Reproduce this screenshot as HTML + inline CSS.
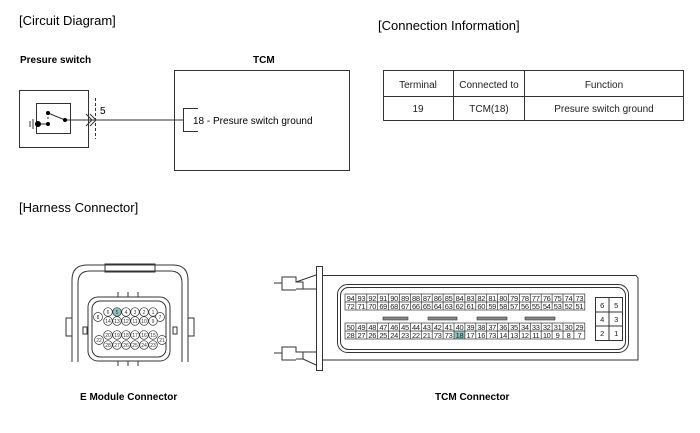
<!DOCTYPE html>
<html><head><meta charset="utf-8"><style>
html,body{margin:0;padding:0;background:#fff;width:700px;height:433px;overflow:hidden}
svg{display:block;font-family:"Liberation Sans",Arial,sans-serif}
</style></head><body>
<svg width="700" height="433" viewBox="0 0 700 433" xmlns="http://www.w3.org/2000/svg">
<g fill="#000">
<text x="19" y="25" font-size="13">[Circuit Diagram]</text>
<text x="378" y="30" font-size="13">[Connection Information]</text>
<text x="19" y="212" font-size="13">[Harness Connector]</text>
<text x="20" y="63" font-size="10" font-weight="bold">Presure switch</text>
<text x="253" y="63" font-size="10" font-weight="bold">TCM</text>
<text x="80" y="400" font-size="10" font-weight="bold">E Module Connector</text>
<text x="435" y="400" font-size="10" font-weight="bold">TCM Connector</text>
</g>
<!-- circuit -->
<g stroke="#333" fill="none" stroke-width="1">
<rect x="19.5" y="90.5" width="69" height="57"/>
<rect x="36.5" y="103.5" width="34" height="30"/>
<rect x="174.5" y="70.5" width="175" height="100"/>
<line x1="65" y1="120" x2="183" y2="120"/>
<path d="M198 108.5 H183.5 V131.5 H198"/>
<line x1="95.5" y1="98" x2="95.5" y2="139" stroke-dasharray="3,2"/>
<path d="M86 114 L92 120 L86 126 M90 114 L96 120 L90 126"/>
<line x1="48" y1="113" x2="65" y2="120"/>
<path d="M48 113 V120" stroke-dasharray="2,2"/>
<line x1="38" y1="124" x2="48" y2="124"/>
<line x1="33" y1="119" x2="33" y2="129"/>
<line x1="30" y1="121" x2="30" y2="127"/>
</g>
<g fill="#000"><circle cx="48" cy="113" r="2"/><circle cx="65" cy="120" r="2"/><circle cx="48" cy="124" r="2"/><circle cx="38" cy="124" r="3"/></g>
<text x="100" y="114" font-size="10">5</text>
<text x="193" y="124" font-size="10">18 - Presure switch ground</text>
<!-- table -->
<g stroke="#333" fill="none">
<rect x="383.5" y="70.5" width="300" height="50"/>
<line x1="383" y1="96.5" x2="684" y2="96.5"/>
<line x1="453.5" y1="70" x2="453.5" y2="121"/>
<line x1="524.5" y1="70" x2="524.5" y2="121"/>
</g>
<g font-size="10" text-anchor="middle" fill="#222">
<text x="418" y="88">Terminal</text><text x="489" y="88">Connected to</text><text x="604" y="88">Function</text>
<text x="418" y="112">19</text><text x="489" y="112">TCM(18)</text><text x="604" y="112">Presure switch ground</text>
</g>
<!-- E module -->
<g stroke="#333" fill="none" stroke-width="1">
<path d="M72 362 V280 Q72 265 87 265 H173 Q188 265 188 280 V362"/>
<path d="M78 362 V283 Q78 271 90 271 H170 Q182 271 182 283 V362"/>
<rect x="105" y="264" width="50" height="8"/>
<rect x="88" y="297" width="82" height="64" rx="10"/>
<rect x="92" y="301" width="74" height="56" rx="8"/>
<rect x="66" y="318" width="6" height="18"/><rect x="188" y="318" width="6" height="18"/>
<rect x="83" y="327" width="4" height="7"/><rect x="173" y="327" width="4" height="7"/>
<path d="M118 297 V292 M128 297 V292 M138 297 V292 M118 361 V366 M128 361 V366 M138 361 V366"/>
</g>
<g stroke="#333" stroke-width="0.7" fill="#fff">
<circle cx="108" cy="312" r="4.3"/><circle cx="117" cy="312" r="4.3" fill="#8fc3c0"/><circle cx="126" cy="312" r="4.3"/><circle cx="135" cy="312" r="4.3"/><circle cx="144" cy="312" r="4.3"/><circle cx="153" cy="312" r="4.3"/>
<circle cx="98" cy="317" r="4.5"/><circle cx="160" cy="317" r="4.5"/>
<circle cx="108" cy="321" r="4.3"/><circle cx="117" cy="321" r="4.3"/><circle cx="126" cy="321" r="4.3"/><circle cx="135" cy="321" r="4.3"/><circle cx="144" cy="321" r="4.3"/><circle cx="153" cy="321" r="4.3"/>
<circle cx="108" cy="335" r="4.3"/><circle cx="117" cy="335" r="4.3"/><circle cx="126" cy="335" r="4.3"/><circle cx="135" cy="335" r="4.3"/><circle cx="144" cy="335" r="4.3"/><circle cx="153" cy="335" r="4.3"/>
<circle cx="99" cy="340" r="4.5"/><circle cx="162" cy="340" r="4.5"/>
<circle cx="108" cy="345" r="4.3"/><circle cx="117" cy="345" r="4.3"/><circle cx="126" cy="345" r="4.3"/><circle cx="135" cy="345" r="4.3"/><circle cx="144" cy="345" r="4.3"/><circle cx="153" cy="345" r="4.3"/>
</g>
<g font-size="5" text-anchor="middle" fill="#333">
<text x="108" y="314">6</text><text x="117" y="314">5</text><text x="126" y="314">4</text><text x="135" y="314">3</text><text x="144" y="314">2</text><text x="153" y="314">1</text>
<text x="98" y="319">8</text><text x="160" y="319">7</text>
<text x="108" y="323">14</text><text x="117" y="323">13</text><text x="126" y="323">12</text><text x="135" y="323">11</text><text x="144" y="323">10</text><text x="153" y="323">9</text>
<text x="108" y="337">20</text><text x="117" y="337">19</text><text x="126" y="337">18</text><text x="135" y="337">17</text><text x="144" y="337">16</text><text x="153" y="337">15</text>
<text x="99" y="342">22</text><text x="162" y="342">21</text>
<text x="108" y="347">28</text><text x="117" y="347">27</text><text x="126" y="347">26</text><text x="135" y="347">25</text><text x="144" y="347">24</text><text x="153" y="347">23</text>
</g>
<!-- TCM connector -->
<g stroke="#333" fill="none" stroke-width="1">
<rect x="316.5" y="266.5" width="6" height="104"/>
<path d="M322 275.5 H636 L638 278 V360 H322"/>
<rect x="337.5" y="284.5" width="291" height="68" rx="10"/>
<rect x="340.5" y="287.5" width="285" height="62" rx="8"/>
<path d="M274 283 H282 V277 H296 V282 H303 V289 H296 M296 282 L316 275 M303 289 L316 289 M282 283 V290 H296"/>
<path d="M274 353 H282 V347 H296 V352 H303 V359 H296 M296 352 L316 352 M303 359 L316 365 M282 353 V360 H296"/>
<rect x="595.5" y="297.5" width="27" height="43"/>
<path d="M595 312 H623 M595 326 H623 M609 297 V341"/>
</g>
<rect x="454" y="331" width="10.9" height="8" fill="#8fc3c0"/>
<g fill="#888" stroke="#333" stroke-width="0.6">
<rect x="383" y="317" width="25" height="3"/><rect x="428" y="317" width="29" height="3"/><rect x="477" y="317" width="30" height="3"/><rect x="525" y="317" width="30" height="3"/>
</g>
<g stroke="#333" fill="none" stroke-width="0.7">
<rect x="345" y="294" width="239.8" height="16"/><line x1="345" y1="302" x2="584.8" y2="302"/>
<rect x="345" y="323" width="239.8" height="16"/><line x1="345" y1="331" x2="584.8" y2="331"/>
<path d="M355.9 294V310M366.8 294V310M377.7 294V310M388.6 294V310M399.5 294V310M410.4 294V310M421.3 294V310M432.2 294V310M443.1 294V310M454 294V310M464.9 294V310M475.8 294V310M486.7 294V310M497.6 294V310M508.5 294V310M519.4 294V310M530.3 294V310M541.2 294V310M552.1 294V310M563 294V310M573.9 294V310"/>
<path d="M355.9 323V339M366.8 323V339M377.7 323V339M388.6 323V339M399.5 323V339M410.4 323V339M421.3 323V339M432.2 323V339M443.1 323V339M454 323V339M464.9 323V339M475.8 323V339M486.7 323V339M497.6 323V339M508.5 323V339M519.4 323V339M530.3 323V339M541.2 323V339M552.1 323V339M563 323V339M573.9 323V339"/>
</g>
<g font-size="7.5" text-anchor="middle" fill="#222" letter-spacing="-0.3">
<text y="301"><tspan x="350.5">94</tspan><tspan x="361.4">93</tspan><tspan x="372.3">92</tspan><tspan x="383.2">91</tspan><tspan x="394.1">90</tspan><tspan x="405">89</tspan><tspan x="415.9">88</tspan><tspan x="426.8">87</tspan><tspan x="437.7">86</tspan><tspan x="448.6">85</tspan><tspan x="459.5">84</tspan><tspan x="470.4">83</tspan><tspan x="481.3">82</tspan><tspan x="492.2">81</tspan><tspan x="503.1">80</tspan><tspan x="514">79</tspan><tspan x="524.9">78</tspan><tspan x="535.8">77</tspan><tspan x="546.7">76</tspan><tspan x="557.6">75</tspan><tspan x="568.5">74</tspan><tspan x="579.4">73</tspan></text>
<text y="309"><tspan x="350.5">72</tspan><tspan x="361.4">71</tspan><tspan x="372.3">70</tspan><tspan x="383.2">69</tspan><tspan x="394.1">68</tspan><tspan x="405">67</tspan><tspan x="415.9">66</tspan><tspan x="426.8">65</tspan><tspan x="437.7">64</tspan><tspan x="448.6">63</tspan><tspan x="459.5">62</tspan><tspan x="470.4">61</tspan><tspan x="481.3">60</tspan><tspan x="492.2">59</tspan><tspan x="503.1">58</tspan><tspan x="514">57</tspan><tspan x="524.9">56</tspan><tspan x="535.8">55</tspan><tspan x="546.7">54</tspan><tspan x="557.6">53</tspan><tspan x="568.5">52</tspan><tspan x="579.4">51</tspan></text>
<text y="330"><tspan x="350.5">50</tspan><tspan x="361.4">49</tspan><tspan x="372.3">48</tspan><tspan x="383.2">47</tspan><tspan x="394.1">46</tspan><tspan x="405">45</tspan><tspan x="415.9">44</tspan><tspan x="426.8">43</tspan><tspan x="437.7">42</tspan><tspan x="448.6">41</tspan><tspan x="459.5">40</tspan><tspan x="470.4">39</tspan><tspan x="481.3">38</tspan><tspan x="492.2">37</tspan><tspan x="503.1">36</tspan><tspan x="514">35</tspan><tspan x="524.9">34</tspan><tspan x="535.8">33</tspan><tspan x="546.7">32</tspan><tspan x="557.6">31</tspan><tspan x="568.5">30</tspan><tspan x="579.4">29</tspan></text>
<text y="338"><tspan x="350.5">28</tspan><tspan x="361.4">27</tspan><tspan x="372.3">26</tspan><tspan x="383.2">25</tspan><tspan x="394.1">24</tspan><tspan x="405">23</tspan><tspan x="415.9">22</tspan><tspan x="426.8">21</tspan><tspan x="437.7">73</tspan><tspan x="448.6">73</tspan><tspan x="459.5">18</tspan><tspan x="470.4">17</tspan><tspan x="481.3">16</tspan><tspan x="492.2">73</tspan><tspan x="503.1">14</tspan><tspan x="514">13</tspan><tspan x="524.9">12</tspan><tspan x="535.8">11</tspan><tspan x="546.7">10</tspan><tspan x="557.6">9</tspan><tspan x="568.5">8</tspan><tspan x="579.4">7</tspan></text>
<text x="602" y="308">6</text><text x="616" y="308">5</text>
<text x="602" y="322">4</text><text x="616" y="322">3</text>
<text x="602" y="336">2</text><text x="616" y="336">1</text>
</g>
</svg>
</body></html>
